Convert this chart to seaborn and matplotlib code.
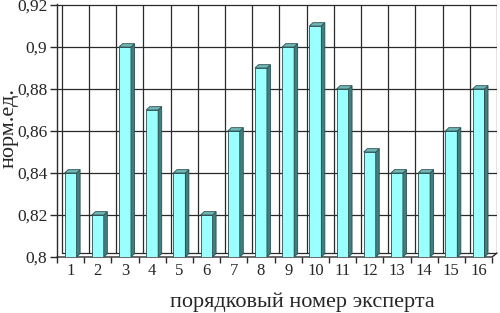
import matplotlib
matplotlib.use("Agg")
import matplotlib.pyplot as plt
from matplotlib.patches import Polygon
from matplotlib.ticker import FixedLocator
import seaborn as sns
import pandas as pd

experts = [str(i) for i in range(1, 17)]
values = [0.84, 0.82, 0.90, 0.87, 0.84, 0.82, 0.86, 0.89,
          0.90, 0.91, 0.88, 0.85, 0.84, 0.84, 0.86, 0.88]
yticks = [0.80, 0.82, 0.84, 0.86, 0.88, 0.90, 0.92]
ytick_labels = ["0,8", "0,82", "0,84", "0,86", "0,88", "0,9", "0,92"]
xlabel = "порядковый номер эксперта"
ylabel = "норм.ед."

front_color = "#99FFFF"
side_color = "#3F7F7F"
top_color = "#70B8B8"
edge_color = "#2B4F4F"
grid_color = "#2a2a2a"

sns.set_style("white")
plt.rcParams['font.family'] = ['Liberation Serif', 'DejaVu Serif']

fig = plt.figure(figsize=(5, 3.13), dpi=100)
ax = fig.add_axes([57 / 500, 1 - 257 / 313, 440 / 500, 253 / 313])

df = pd.DataFrame({"expert": experts, "value": values})
sns.barplot(data=df, x="expert", y="value", color=front_color, saturation=1,
            width=0.44, edgecolor=edge_color, linewidth=0.6, ax=ax, zorder=3)

n = len(experts)
ymin, ymax = yticks[0], yticks[-1]
wall_dx, wall_dy = 0.18, 0.0019
bar_dx, bar_dy = 0.13, 0.0016

ax.set_xlim(-0.5, n - 0.5 + wall_dx)
ax.set_ylim(ymin, ymax + 0.0005)

# 3D sides and tops derived from the bar patches
for p in list(ax.patches):
    x0, w, top = p.get_x(), p.get_width(), p.get_height()
    side = Polygon([(x0 + w, ymin), (x0 + w + bar_dx, ymin + bar_dy),
                    (x0 + w + bar_dx, top + bar_dy), (x0 + w, top)],
                   closed=True, facecolor=side_color, edgecolor=edge_color,
                   linewidth=0.6, zorder=3)
    topf = Polygon([(x0, top), (x0 + bar_dx, top + bar_dy),
                    (x0 + w + bar_dx, top + bar_dy), (x0 + w, top)],
                   closed=True, facecolor=top_color, edgecolor=edge_color,
                   linewidth=0.6, zorder=3)
    ax.add_patch(side)
    ax.add_patch(topf)

# back wall grid
for yv in yticks[1:]:
    ax.plot([-0.5, -0.5 + wall_dx, n - 0.5 + wall_dx], [yv, yv, yv],
            color=grid_color, lw=0.9, zorder=1)
for k in range(n + 1):
    xv = k - 0.5 + wall_dx
    ax.plot([xv, xv], [ymin + wall_dy, ymax], color=grid_color, lw=0.9, zorder=1)
# floor
ax.plot([-0.5, n - 0.5, n - 0.5 + wall_dx], [ymin, ymin, ymin + wall_dy],
        color=grid_color, lw=1.0, zorder=2, clip_on=False)
ax.plot([-0.5 + wall_dx, n - 0.5 + wall_dx], [ymin + wall_dy, ymin + wall_dy],
        color=grid_color, lw=0.9, zorder=1)

for s in ["top", "right", "bottom"]:
    ax.spines[s].set_visible(False)
ax.spines["left"].set_color(grid_color)
ax.spines["left"].set_linewidth(1.0)

ax.set_yticks(yticks)
ax.set_yticklabels(ytick_labels)
ax.tick_params(axis="y", direction="out", length=5, width=1.0, color=grid_color,
               labelsize=12.5, pad=2, left=True)
ax.set_xticks(range(n))
ax.set_xticklabels(experts)
ax.xaxis.set_minor_locator(FixedLocator([k - 0.5 for k in range(n + 1)]))
ax.tick_params(axis="x", which="major", length=0, labelsize=12, pad=4)
ax.tick_params(axis="x", which="minor", direction="out", length=4, width=1.0,
               color=grid_color, bottom=True)

ax.set_xlabel(xlabel, fontsize=16, va="center")
ax.xaxis.set_label_coords(0.557, -0.178)
ax.set_ylabel(ylabel, fontsize=16, va="center")
ax.yaxis.set_label_coords(-0.108, 0.51)
ax.grid(False)

fig.savefig("out.png", dpi=100)
